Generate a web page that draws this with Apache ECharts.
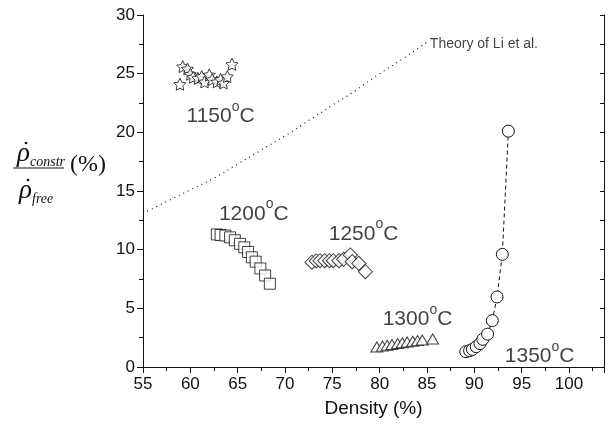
<!DOCTYPE html>
<html><head><meta charset="utf-8">
<script src="https://cdn.jsdelivr.net/npm/echarts@6/dist/echarts.min.js"></script>
<style>html,body{margin:0;padding:0;background:#fff}#c{width:610px;height:441px}</style>
</head><body><div id="c"></div>
<script>
// ---- data ----
const x1150 = [58.9, 59.2, 59.7, 60.0, 60.3, 60.8, 61.2, 61.5, 62.0, 62.3, 62.8, 63.2, 63.5, 63.9, 64.4];
const y1150 = [24.1, 25.6, 25.4, 24.95, 24.7, 24.6, 24.75, 24.3, 24.9, 24.5, 24.3, 24.5, 24.2, 24.75, 25.8];
const x1200 = [62.8, 63.2, 63.7, 64.2, 64.7, 65.25, 65.7, 66.1, 66.5, 66.9, 67.4, 67.9, 68.4];
const y1200 = [11.3, 11.25, 11.2, 11.05, 10.8, 10.5, 10.2, 9.8, 9.35, 8.98, 8.4, 7.8, 7.1];
const x1250 = [72.85, 73.3, 73.7, 74.2, 74.7, 75.1, 75.7, 76.2, 76.9, 77.1, 77.8, 78.5];
const y1250 = [8.93, 9.04, 9.06, 9.06, 9.06, 9.06, 9.06, 9.18, 9.55, 8.98, 8.83, 8.12];
const x1300 = [79.7, 80.3, 80.8, 81.3, 81.9, 82.4, 82.9, 83.5, 84.0, 84.5, 85.6];
const y1300 = [1.7, 1.78, 1.85, 1.92, 2.0, 2.07, 2.13, 2.2, 2.25, 2.3, 2.38];
const x1350 = [89.1, 89.5, 89.8, 90.2, 90.6, 90.9, 91.4, 91.9, 92.4, 92.96, 93.6];
const y1350 = [1.3, 1.39, 1.5, 1.73, 2.0, 2.36, 2.8, 3.95, 5.97, 9.6, 20.1];
const xTheory = [55, 57.5, 60, 62.5, 65, 67.5, 70, 72.5, 75, 77.5, 80, 82.5, 85];
const yTheory = [13.1, 14.1, 15.1, 16.1, 17.3, 18.5, 19.7, 21.0, 22.3, 23.6, 25.0, 26.3, 27.7];
const labelTemps = ['1150', '1200', '1250', '1300', '1350'];
const labelX = [63.2, 66.7, 78.3, 84.0, 96.9];
const labelY = [21.6, 13.3, 11.6, 4.3, 1.15];
const theoryLabel = 'Theory of Li et al.';
const theoryLabelPos = [85.3, 27.5];
const xAxisName = 'Density (%)';

const zip = (a, b) => a.map((v, i) => [v, b[i]]);
const starPath = 'path://M0,-10 L2.9,-4 L9.5,-3.1 L4.7,1.5 L5.9,8.1 L0,5 L-5.9,8.1 L-4.7,1.5 L-9.5,-3.1 L-2.9,-4 Z';
const mk = (style) => Object.assign({color: '#fff', borderColor: '#111', borderWidth: 1}, style || {});
const font = 'Liberation Sans, Arial, sans-serif';
const serif = 'Liberation Serif, Times New Roman, serif';
const ink = '#111';

const chart = echarts.init(document.getElementById('c'), null, {renderer: 'canvas'});
const axisCommon = {
  axisLine: {lineStyle: {color: ink, width: 1}},
  splitLine: {show: false}
};
chart.setOption({
  backgroundColor: '#fff',
  animation: false,
  grid: {left: 143, right: 6, top: 15, bottom: 74},
  xAxis: [
    Object.assign({
      type: 'value', min: 55, max: 103.7, interval: 5, position: 'bottom',
      axisTick: {show: true, length: 6, inside: false, lineStyle: {color: ink}},
      minorTick: {show: true, splitNumber: 2, length: 3, lineStyle: {color: ink}},
      axisLabel: {fontFamily: font, fontSize: 17, color: ink, margin: 9, showMaxLabel: false},
      name: xAxisName, nameLocation: 'middle', nameGap: 32,
      nameTextStyle: {fontFamily: font, fontSize: 19, color: ink}
    }, axisCommon),
    Object.assign({
      type: 'value', min: 55, max: 103.7, interval: 5, position: 'top',
      axisTick: {show: true, length: 4, inside: true, lineStyle: {color: ink}},
      minorTick: {show: true, splitNumber: 2, length: 4, lineStyle: {color: ink}},
      axisLabel: {show: false}
    }, axisCommon)
  ],
  yAxis: [
    Object.assign({
      type: 'value', min: 0, max: 30, interval: 5, position: 'left',
      axisTick: {show: true, length: 6, inside: false, lineStyle: {color: ink}},
      minorTick: {show: true, splitNumber: 2, length: 4, lineStyle: {color: ink}},
      axisLabel: {fontFamily: font, fontSize: 17, color: ink, margin: 8}
    }, axisCommon),
    Object.assign({
      type: 'value', min: 0, max: 30, interval: 5, position: 'right',
      axisTick: {show: true, length: 4, inside: true, lineStyle: {color: ink}},
      minorTick: {show: true, splitNumber: 2, length: 4, lineStyle: {color: ink}},
      axisLabel: {show: false}
    }, axisCommon)
  ],
  series: [
    {type: 'line', data: zip(xTheory, yTheory), symbol: 'none', smooth: true,
     lineStyle: {color: ink, width: 1.2, type: [1, 4]}},
    {type: 'scatter', data: zip(x1150, y1150), symbol: starPath, symbolSize: 12, itemStyle: mk()},
    {type: 'scatter', data: zip(x1200, y1200), symbol: 'rect', symbolSize: 11, itemStyle: mk()},
    {type: 'scatter', data: zip(x1250, y1250), symbol: 'rect', symbolSize: 10, symbolRotate: 45, itemStyle: mk()},
    {type: 'scatter', data: zip(x1300, y1300), symbol: 'triangle', symbolSize: [12, 10], itemStyle: mk()},
    {type: 'line', data: zip(x1350, y1350), symbol: 'circle', symbolSize: 12, showSymbol: true,
     lineStyle: {color: ink, width: 1, type: [4, 3]}, itemStyle: mk(), z: 3},
    {type: 'scatter', symbolSize: 0, silent: true, z: 10,
     data: labelTemps.map((t, i) => ({value: [labelX[i], labelY[i]], name: t})),
     label: {show: true, position: 'inside', formatter: p => '{n|' + p.name + '}{o|o}{n|C}',
       rich: {
         n: {fontFamily: font, fontSize: 21, color: ink, lineHeight: 27, verticalAlign: 'bottom'},
         o: {fontFamily: font, fontSize: 14, color: ink, lineHeight: 14, verticalAlign: 'top'}
       }}},
    {type: 'scatter', symbolSize: 0, silent: true, z: 10,
     data: [{value: theoryLabelPos, name: theoryLabel}],
     label: {show: true, position: 'right', distance: 0, formatter: p => p.name,
       fontFamily: font, fontSize: 14, color: ink}}
  ],
  graphic: [
    {type: 'text', left: 17, top: 140, style: {text: 'ρ', font: 'italic 27px ' + serif, fill: ink}},
    {type: 'circle', shape: {cx: 26, cy: 143, r: 1.3}, style: {fill: ink}},
    {type: 'text', left: 30, top: 155, style: {text: 'constr', font: 'italic 14px ' + serif, fill: ink}},
    {type: 'line', shape: {x1: 13, y1: 168, x2: 64, y2: 168}, style: {stroke: ink, lineWidth: 1}},
    {type: 'text', left: 19, top: 177, style: {text: 'ρ', font: 'italic 27px ' + serif, fill: ink}},
    {type: 'circle', shape: {cx: 28, cy: 180, r: 1.3}, style: {fill: ink}},
    {type: 'text', left: 32, top: 192, style: {text: 'free', font: 'italic 14px ' + serif, fill: ink}},
    {type: 'text', left: 70, top: 153, style: {text: '(%)', font: '24px ' + serif, fill: ink}}
  ]
});
</script></body></html>
